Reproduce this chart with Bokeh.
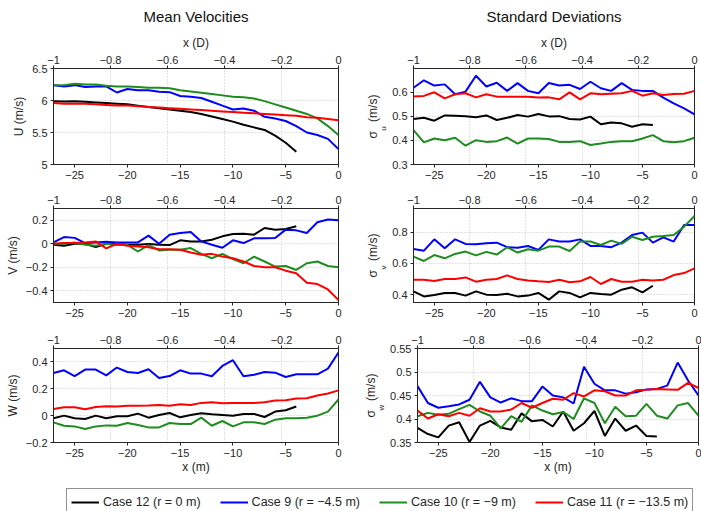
from bokeh.plotting import figure
from bokeh.models import (Range1d, LinearAxis, FixedTicker, Grid, Legend,
                          LegendItem)
from bokeh.layouts import column, row
from bokeh.embed import file_html
from bokeh.resources import INLINE

FONT = "Liberation Sans"
TXT = "#262626"

# ---------------- data ----------------
rotor_D = 27.0  # metres per rotor diameter (top axis scale)

x_m = [-27, -26, -25, -24, -23, -22, -21, -20, -19, -18, -17, -16, -15, -14,
       -13, -12, -11, -10, -9, -8, -7, -6, -5, -4, -3, -2, -1, 0]
x_m_c12 = [-27, -26, -25, -24, -23, -22, -21, -20, -19, -18, -17, -16, -15,
           -14, -13, -12, -11, -10, -9, -8, -7, -6, -5, -4]

case_names = ["Case 12 (r = 0 m)", "Case 9 (r = \u22124.5 m)",
              "Case 10 (r = \u22129 m)", "Case 11 (r = \u221213.5 m)"]
case_colors = ["#000000", "#0000ff", "#1e8c1e", "#ff0000"]

# Mean U
U_c12 = [5.99, 5.985, 5.99, 5.98, 5.97, 5.96, 5.95, 5.94, 5.92, 5.90, 5.88, 5.86,
         5.84, 5.82, 5.79, 5.75, 5.71, 5.67, 5.62, 5.58, 5.54, 5.45, 5.34, 5.20]
U_c9 = [6.24, 6.22, 6.24, 6.21, 6.22, 6.22, 6.125, 6.18, 6.16, 6.16, 6.135, 6.13,
        6.07, 6.06, 6.04, 5.98, 5.92, 5.86, 5.875, 5.84, 5.745, 5.72, 5.68, 5.60,
        5.50, 5.46, 5.40, 5.24]
U_c10 = [6.24, 6.24, 6.26, 6.25, 6.25, 6.23, 6.22, 6.22, 6.21, 6.20, 6.20, 6.19,
         6.16, 6.14, 6.12, 6.10, 6.08, 6.06, 6.05, 6.03, 5.99, 5.94, 5.89, 5.84,
         5.79, 5.72, 5.60, 5.46]
U_c11 = [5.96, 5.95, 5.95, 5.95, 5.94, 5.93, 5.92, 5.92, 5.91, 5.90, 5.89, 5.88,
         5.87, 5.86, 5.85, 5.84, 5.83, 5.82, 5.81, 5.80, 5.79, 5.78, 5.77, 5.76,
         5.74, 5.73, 5.71, 5.69]

# Mean V
V_c12 = [-0.009, -0.017, 0.0, 0.0, -0.029, 0.0, -0.003, -0.009, -0.009, -0.003,
         -0.009, -0.011, 0.029, 0.02, 0.02, 0.034, 0.063, 0.083, 0.086, 0.077,
         0.134, 0.12, 0.126, 0.149]
V_c9 = [0.011, 0.057, 0.05, 0.006, 0.011, 0.017, 0.011, 0.011, 0.011, 0.069, 0.0,
        0.077, 0.091, 0.1, 0.02, -0.009, -0.034, 0.029, 0.006, 0.046, 0.046, 0.049,
        0.12, 0.114, 0.091, 0.183, 0.206, 0.2]
V_c10 = [0.0, 0.0, 0.011, -0.009, -0.017, 0.0, -0.011, -0.009, -0.066, -0.011,
         -0.057, -0.051, -0.051, -0.037, -0.086, -0.123, -0.086, -0.131, -0.166,
         -0.109, -0.151, -0.194, -0.189, -0.223, -0.166, -0.151, -0.189, -0.2]
V_c11 = [0.0, 0.006, 0.006, 0.011, 0.02, -0.04, 0.0, -0.017, -0.023, -0.029,
         -0.046, -0.046, -0.051, -0.074, -0.094, -0.086, -0.109, -0.123, -0.151,
         -0.189, -0.2, -0.2, -0.229, -0.251, -0.331, -0.343, -0.389, -0.48]

# Mean W
W_c12 = [-0.02, 0.0, -0.02, -0.025, 0.0, -0.02, -0.005, -0.005, 0.015, -0.015,
         0.005, 0.02, -0.0125, 0.005, 0.018, 0.01, 0.005, 0.0, 0.013, 0.013,
         -0.01, 0.03, 0.04, 0.068]
W_c9 = [0.318, 0.338, 0.295, 0.343, 0.343, 0.3, 0.358, 0.325, 0.318, 0.345, 0.28,
        0.295, 0.338, 0.313, 0.313, 0.293, 0.37, 0.413, 0.293, 0.305, 0.325, 0.32,
        0.288, 0.308, 0.308, 0.308, 0.35, 0.47]
W_c10 = [-0.05, -0.075, -0.08, -0.1, -0.08, -0.0725, -0.075, -0.055, -0.07,
         -0.0875, -0.0875, -0.055, -0.0625, -0.0625, -0.015, -0.075, -0.04, -0.08,
         -0.05, -0.05, -0.0625, -0.03, -0.02, -0.02, -0.015, 0.0, 0.03, 0.12]
W_c11 = [0.05, 0.063, 0.063, 0.048, 0.065, 0.07, 0.068, 0.073, 0.073, 0.075, 0.08,
         0.073, 0.085, 0.08, 0.095, 0.1, 0.093, 0.095, 0.095, 0.095, 0.1, 0.113,
         0.115, 0.128, 0.13, 0.15, 0.165, 0.188]

# Std u
Su_c12 = [0.489, 0.494, 0.482, 0.504, 0.503, 0.501, 0.496, 0.504, 0.485, 0.494,
          0.506, 0.499, 0.51, 0.5, 0.501, 0.489, 0.487, 0.499, 0.467, 0.475,
          0.471, 0.457, 0.467, 0.464]
Su_c9 = [0.619, 0.65, 0.628, 0.633, 0.592, 0.603, 0.669, 0.624, 0.64, 0.606,
         0.638, 0.606, 0.596, 0.639, 0.628, 0.631, 0.614, 0.644, 0.617, 0.606,
         0.638, 0.61, 0.606, 0.606, 0.578, 0.554, 0.533, 0.508]
Su_c10 = [0.443, 0.392, 0.408, 0.401, 0.411, 0.378, 0.401, 0.394, 0.397, 0.412,
          0.387, 0.408, 0.408, 0.406, 0.394, 0.394, 0.397, 0.381, 0.387, 0.394,
          0.397, 0.397, 0.408, 0.422, 0.397, 0.392, 0.397, 0.411]
Su_c11 = [0.583, 0.585, 0.6, 0.575, 0.592, 0.596, 0.579, 0.592, 0.582, 0.582,
          0.582, 0.582, 0.578, 0.579, 0.571, 0.6, 0.571, 0.596, 0.592, 0.594,
          0.596, 0.606, 0.586, 0.596, 0.589, 0.593, 0.594, 0.606]

# Std v
Sv_c12 = [0.421, 0.389, 0.398, 0.411, 0.411, 0.394, 0.421, 0.4, 0.398, 0.406,
          0.389, 0.394, 0.411, 0.368, 0.421, 0.411, 0.383, 0.411, 0.404, 0.4,
          0.432, 0.447, 0.415, 0.457]
Sv_c9 = [0.692, 0.681, 0.753, 0.696, 0.753, 0.724, 0.722, 0.728, 0.732, 0.703,
         0.7, 0.711, 0.686, 0.753, 0.739, 0.739, 0.753, 0.711, 0.711, 0.703,
         0.732, 0.781, 0.796, 0.732, 0.766, 0.739, 0.845, 0.845]
Sv_c10 = [0.643, 0.615, 0.653, 0.632, 0.66, 0.675, 0.651, 0.673, 0.656, 0.703,
          0.669, 0.69, 0.681, 0.707, 0.707, 0.679, 0.739, 0.739, 0.717, 0.745,
          0.724, 0.77, 0.749, 0.77, 0.774, 0.781, 0.834, 0.902]
Sv_c11 = [0.495, 0.495, 0.487, 0.5, 0.5, 0.51, 0.483, 0.495, 0.5, 0.523, 0.5,
          0.491, 0.485, 0.481, 0.495, 0.479, 0.485, 0.513, 0.468, 0.5, 0.483,
          0.483, 0.495, 0.491, 0.495, 0.525, 0.538, 0.568]

# Std w
Sw_c12 = [0.381, 0.368, 0.361, 0.386, 0.393, 0.351, 0.386, 0.396, 0.382, 0.377,
          0.412, 0.395, 0.398, 0.384, 0.416, 0.375, 0.391, 0.417, 0.364, 0.401,
          0.375, 0.386, 0.364, 0.363]
Sw_c9 = [0.47, 0.434, 0.424, 0.427, 0.431, 0.441, 0.479, 0.446, 0.435, 0.444,
         0.438, 0.438, 0.469, 0.45, 0.446, 0.433, 0.511, 0.475, 0.461, 0.461,
         0.454, 0.457, 0.463, 0.464, 0.471, 0.52, 0.482, 0.45]
Sw_c10 = [0.406, 0.413, 0.409, 0.411, 0.421, 0.43, 0.416, 0.407, 0.38, 0.406,
          0.394, 0.429, 0.418, 0.41, 0.415, 0.4, 0.444, 0.434, 0.391, 0.426,
          0.406, 0.407, 0.432, 0.407, 0.401, 0.429, 0.434, 0.407]
Sw_c11 = [0.418, 0.401, 0.41, 0.406, 0.413, 0.407, 0.423, 0.416, 0.416, 0.42,
          0.434, 0.424, 0.434, 0.443, 0.441, 0.455, 0.448, 0.461, 0.459, 0.45,
          0.45, 0.461, 0.462, 0.464, 0.463, 0.462, 0.477, 0.466]

# ticks
xm_ticks = [-25, -20, -15, -10, -5, 0]
xm_tick_labels = ["\u221225", "\u221220", "\u221215", "\u221210", "\u22125", "0"]
xD_ticks = [-1, -0.8, -0.6, -0.4, -0.2, 0]
xD_tick_labels = ["\u22121", "\u22120.8", "\u22120.6", "\u22120.4", "\u22120.2", "0"]

U_ticks = [5, 5.5, 6, 6.5]
U_tick_labels = ["5", "5.5", "6", "6.5"]
V_ticks = [-0.4, -0.2, 0, 0.2]
V_tick_labels = ["\u22120.4", "\u22120.2", "0", "0.2"]
W_ticks = [-0.2, 0, 0.2, 0.4]
W_tick_labels = ["\u22120.2", "0", "0.2", "0.4"]
Su_ticks = [0.3, 0.4, 0.5, 0.6]
Su_tick_labels = ["0.3", "0.4", "0.5", "0.6"]
Sv_ticks = [0.4, 0.6, 0.8]
Sv_tick_labels = ["0.4", "0.6", "0.8"]
Sw_ticks = [0.35, 0.4, 0.45, 0.5, 0.55]
Sw_tick_labels = ["0.35", "0.4", "0.45", "0.5", "0.55"]

x_lim = (-27, 0)

FRAME_W = [285, 281]
BORDER_LEFT = 53
BORDER_RIGHT = [22, 7]
FRAME_H = [96, 94, 94]
BORDER_TOP = [67, 22, 22]
BORDER_BOTTOM = [22, 24, 39]


# ---------------- styling helpers ----------------
def style_axis(ax, standoff):
    ax.axis_line_color = TXT
    ax.major_tick_line_color = TXT
    ax.minor_tick_line_color = None
    ax.major_tick_in = 0
    ax.major_tick_out = 3
    ax.major_label_standoff = standoff
    ax.major_label_text_font = FONT
    ax.major_label_text_font_size = "11px"
    ax.major_label_text_color = TXT
    ax.axis_label_text_font = FONT
    ax.axis_label_text_font_size = "12px"
    ax.axis_label_text_color = TXT
    ax.axis_label_text_font_style = "normal"


def label_axis(text, size, standoff):
    """A tick-less left axis that only carries a label."""
    ax = LinearAxis(ticker=FixedTicker(ticks=[]))
    ax.axis_line_color = None
    ax.major_tick_line_color = None
    ax.minor_tick_line_color = None
    ax.major_tick_in = 0
    ax.major_tick_out = 0
    ax.minor_tick_in = 0
    ax.minor_tick_out = 0
    ax.major_label_standoff = 0
    ax.axis_label = text
    ax.axis_label_standoff = standoff
    ax.axis_label_text_font = FONT
    ax.axis_label_text_font_size = size
    ax.axis_label_text_color = TXT
    ax.axis_label_text_font_style = "normal"
    return ax


def add_sigma_label(p, sub):
    # subscript (nearer the axis), padded so it sits right after the sigma
    p.add_layout(label_axis(sub + "\u2003\u2003\u2003", "8px", 2), "left")
    # sigma ... (m/s)
    p.add_layout(label_axis("\u03c3\u00a0\u00a0\u2009(m/s)", "12px", -4), "left")


def make_panel(col, rowi, y_lim, y_ticks, y_labels, series, ylabel=None,
               sigma_sub=None, title=None):
    fh = FRAME_H[rowi]
    p = figure(frame_width=FRAME_W[col], frame_height=fh,
               min_border_left=BORDER_LEFT,
               min_border_right=BORDER_RIGHT[col],
               min_border_top=BORDER_TOP[rowi],
               min_border_bottom=BORDER_BOTTOM[rowi],
               x_range=Range1d(*x_lim), y_range=Range1d(*y_lim),
               output_backend="svg", toolbar_location=None)
    p.background_fill_color = "white"
    p.border_fill_color = "white"
    p.outline_line_color = TXT
    p.outline_line_width = 1

    xa = p.xaxis[0]
    xa.ticker = FixedTicker(ticks=xm_ticks)
    xa.major_label_overrides = dict(zip(xm_ticks, xm_tick_labels))
    style_axis(xa, 3)
    if rowi == 2:
        xa.axis_label = "x (m)"
        xa.axis_label_standoff = 0

    p.extra_x_ranges = {"D": Range1d(x_lim[0] / rotor_D, x_lim[1] / rotor_D)}
    ta = LinearAxis(x_range_name="D", ticker=FixedTicker(ticks=xD_ticks),
                    major_label_overrides=dict(zip(xD_ticks, xD_tick_labels)))
    style_axis(ta, 2)
    if rowi == 0:
        ta.axis_label = "x (D)"
        ta.axis_label_standoff = 3
    p.add_layout(ta, "above")

    ya = p.yaxis[0]
    ya.ticker = FixedTicker(ticks=y_ticks)
    ya.major_label_overrides = dict(zip(y_ticks, y_labels))
    style_axis(ya, 3)
    if ylabel:
        ya.axis_label = ylabel
        ya.axis_label_standoff = 3
    if sigma_sub:
        add_sigma_label(p, sigma_sub)

    p.xgrid.visible = False
    p.ygrid.ticker = FixedTicker(ticks=y_ticks)
    p.ygrid.grid_line_color = "#c4c4c4"
    p.ygrid.grid_line_dash = "1 2"
    g = Grid(dimension=0, ticker=FixedTicker(ticks=xD_ticks), x_range_name="D",
             grid_line_color="#c4c4c4", grid_line_dash="1 2")
    p.add_layout(g)

    for (xs, ys), c in zip(series, case_colors):
        p.line(xs, ys, line_color=c, line_width=2)

    if title:
        p.title.text = title
        p.title.align = "center"
        p.title.vertical_align = "middle"
        p.title.text_font = FONT
        p.title.text_font_size = "15px"
        p.title.text_font_style = "normal"
        p.title.text_color = "#111111"
        p.title.standoff = 13
    return p


def ser(a, b, c, d):
    return [(x_m_c12, a), (x_m, b), (x_m, c), (x_m, d)]


p1 = make_panel(0, 0, (5, 6.5), U_ticks, U_tick_labels,
                ser(U_c12, U_c9, U_c10, U_c11), ylabel="U (m/s)",
                title="Mean Velocities")
p2 = make_panel(1, 0, (0.3, 0.699), Su_ticks, Su_tick_labels,
                ser(Su_c12, Su_c9, Su_c10, Su_c11), sigma_sub="u",
                title="Standard Deviations")
p3 = make_panel(0, 1, (-0.5, 0.3), V_ticks, V_tick_labels,
                ser(V_c12, V_c9, V_c10, V_c11), ylabel="V (m/s)")
p4 = make_panel(1, 1, (0.35, 0.95), Sv_ticks, Sv_tick_labels,
                ser(Sv_c12, Sv_c9, Sv_c10, Sv_c11), sigma_sub="v")
p5 = make_panel(0, 2, (-0.2, 0.5), W_ticks, W_tick_labels,
                ser(W_c12, W_c9, W_c10, W_c11), ylabel="W (m/s)")
p6 = make_panel(1, 2, (0.35, 0.55), Sw_ticks, Sw_tick_labels,
                ser(Sw_c12, Sw_c9, Sw_c10, Sw_c11), sigma_sub="w")

# legend strip: the four series lie outside its visible range, only the
# legend shows
lg = figure(width=701, height=31, min_border=0, x_range=Range1d(0, 1),
            y_range=Range1d(0, 1), x_axis_location=None, y_axis_location=None,
            output_backend="svg", toolbar_location=None)
lg.grid.visible = False
lg.outline_line_color = None
items = []
for (xs, ys), name, c in zip(ser(U_c12, U_c9, U_c10, U_c11), case_names,
                             case_colors):
    r = lg.line(xs, ys, line_color=c, line_width=2)
    items.append(LegendItem(label=name, renderers=[r]))
legend = Legend(items=items, orientation="horizontal", location=(66, -4),
                padding=4, spacing=19, glyph_width=28, glyph_height=18,
                label_height=18, label_standoff=4, margin=0,
                label_text_font=FONT, label_text_font_size="12.5px",
                label_text_color=TXT, border_line_color=TXT,
                border_line_width=1, background_fill_color="white",
                background_fill_alpha=1.0)
lg.add_layout(legend)

layout = column(row(p1, p2), row(p3, p4), row(p5, p6), lg)

open("out.html", "w").write(file_html(layout, INLINE))
